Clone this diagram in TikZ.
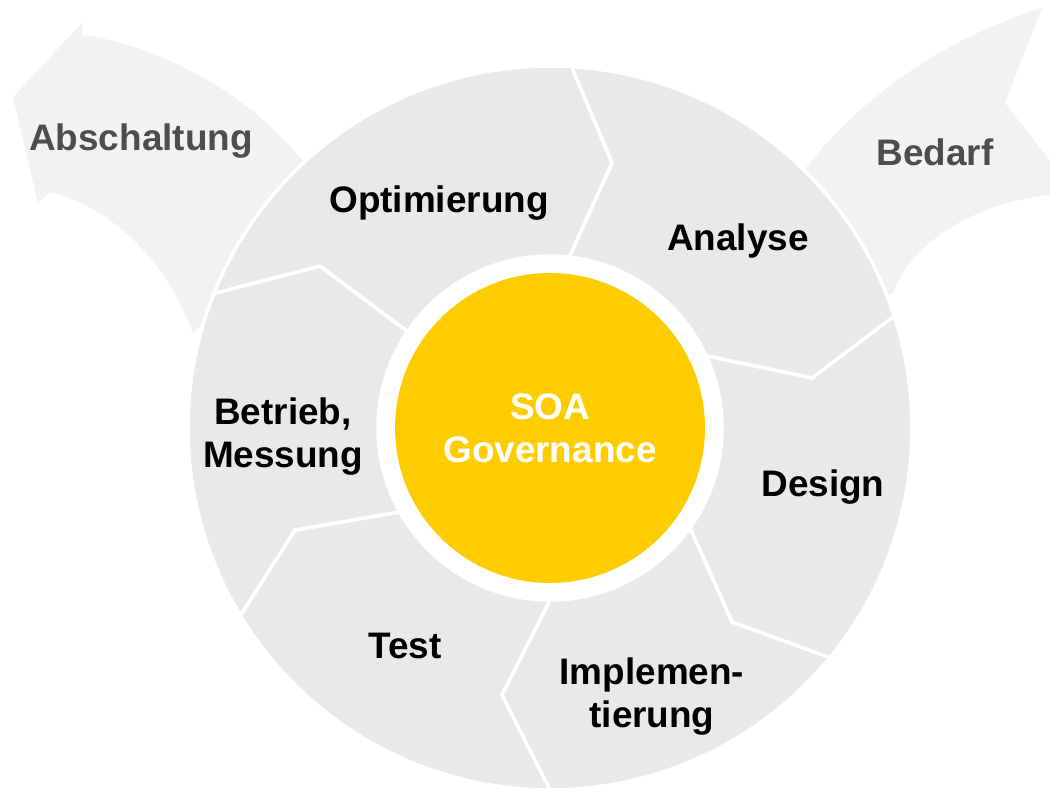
\documentclass[tikz,border=0pt]{standalone}
\usepackage{fontspec}
\setmainfont{Liberation Sans}
\usetikzlibrary{calc}
\definecolor{ringgray}{HTML}{E9E9E9}
\definecolor{flowgray}{HTML}{F2F2F2}
\definecolor{soayellow}{HTML}{FFCC00}
\definecolor{sidetext}{HTML}{4D4D4D}
\newcommand{\rout}{7.24}
\newcommand{\rinn}{3.44}
\newcommand{\ringpart}[6]{\filldraw[seg] ($(c)+(#1:\rout)$) arc[start angle=#1,end angle=#2,radius=\rout] -- (#3) -- ($(c)+(#4:\rinn)$) arc[start angle=#4,end angle=#5,radius=\rinn] -- (#6) -- cycle;}

\begin{document}
\begin{tikzpicture}
                \tikzstyle{seg}=[fill=ringgray, draw=white, line width=2pt]
                \tikzstyle{flow}=[fill=flowgray]
                \tikzstyle{lbl}=[font=\fontsize{21}{24.5}\selectfont\bfseries, align=center, inner sep=0pt]
                \tikzstyle{hub}=[circle, fill=soayellow, minimum size=6.2cm, inner sep=0pt, text=white]

                \useasboundingbox (0,0) rectangle (21,16.12);
                \clip (0,0) rectangle (21,16.12);

                \coordinate (c) at (11,7.56);
                \coordinate (t1) at (12.24,12.86);
                \coordinate (t2) at (16.24,8.56);
                \coordinate (t3) at (14.64,3.68);
                \coordinate (t4) at (10.04,2.22);
                \coordinate (t5) at (5.9,5.52);
                \coordinate (t6) at (6.4,10.8);

                \fill[flow] (21.5,12.26) -- (20.1,14.06) -- (20.84,15.96) .. controls (18.8,15.32) and (17.2,14.12) .. (16.2,12.86) -- (15.5,12.02) -- (17.2,9.82) -- (17.86,10.26) .. controls (18.3,11.42) and (19.8,12.22) .. (21.5,12.26) -- cycle;
                \fill[flow] (0.26,14.18) -- (1.66,15.68) -- (1.64,15.42) .. controls (3.2,15.22) and (5.0,14.22) .. (6.04,12.92) -- (6.8,12.12) -- (4.5,10.12) -- (3.86,9.46) .. controls (3.4,10.72) and (2.4,11.92) .. (1.0,12.28) -- (0.76,12.06) -- cycle;

                \ringpart{86.6}{18}{t2}{24.8}{83.6}{t1}
                \ringpart{18}{-39.4}{t3}{-35.5}{24.8}{t2}
                \ringpart{-39.4}{-90}{t4}{-90}{-35.5}{t3}
                \ringpart{-90}{-148.8}{t5}{-150.8}{-90}{t4}
                \ringpart{-148.8}{-201.8}{t6}{-214.1}{-150.8}{t5}
                \ringpart{158.2}{86.6}{t1}{83.6}{145.9}{t6}

                \node[hub, lbl] (gov) at (c) {SOA\\Governance};

                \node[lbl, anchor=base] (opt) at (8.78,11.86) {Optimierung};
                \node[lbl, anchor=base] (ana) at (14.76,11.10) {Analyse};
                \node[lbl, anchor=base] (des) at (16.46,6.18) {Design};
                \node[lbl] (imp) at (13.04,2.19) {Implemen-\\tierung};
                \node[lbl, anchor=base] (tst) at (8.10,2.94) {Test};
                \node[lbl] (bet) at (5.66,7.38) {Betrieb,\\Messung};
                \node[lbl, anchor=base, text=sidetext] (abs) at (2.82,13.10) {Abschaltung};
                \node[lbl, anchor=base, text=sidetext] (bed) at (18.70,12.80) {Bedarf};
\end{tikzpicture}
\end{document}
